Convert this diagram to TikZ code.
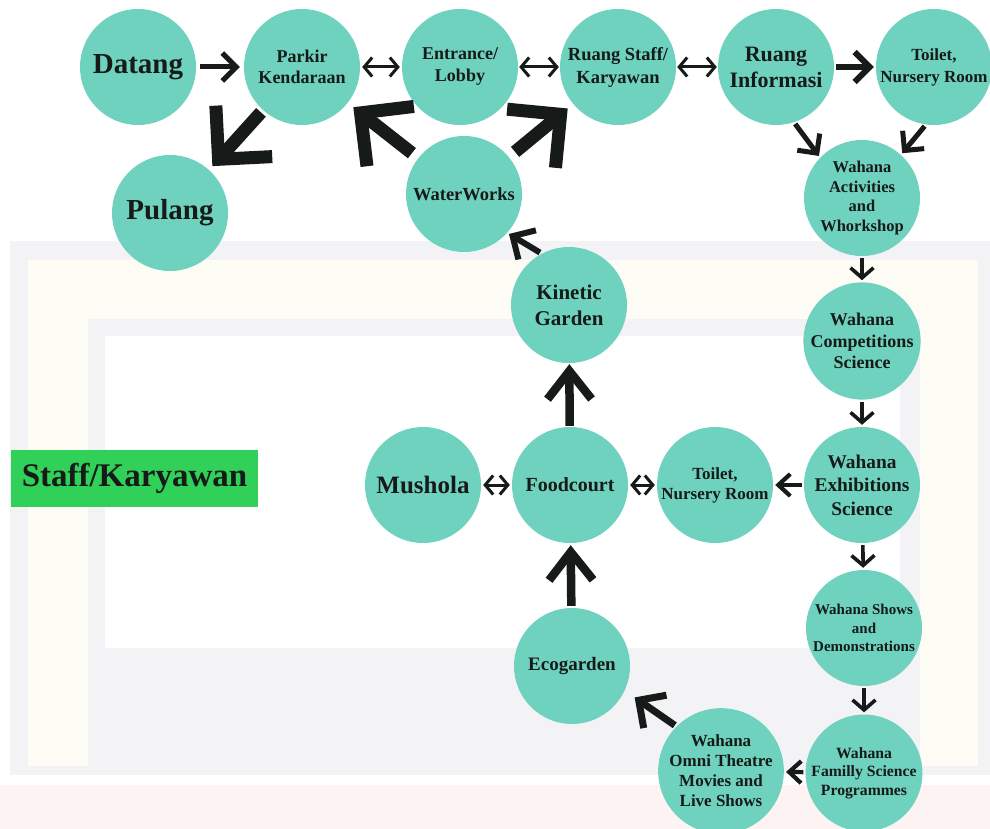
\documentclass[tikz,border=0pt]{standalone}
\usepackage{fontspec}
\setmainfont{Liberation Serif}
\usetikzlibrary{arrows.meta}

\definecolor{disc}{HTML}{6FD2BF}
\definecolor{ink}{HTML}{161A18}
\definecolor{tag}{HTML}{31D159}
\definecolor{wmgray}{HTML}{F3F3F6}
\definecolor{wmbeige}{HTML}{FEFDF5}
\definecolor{wmpink}{HTML}{FDF3F3}

\newcommand\setfs[2]{\fontsize{#1}{#2}\selectfont\bfseries}

\tikzset{
  place/.style={circle, fill=disc, minimum size=116pt, inner sep=0pt,
                align=center, text=ink},
  gap/.style={shorten <=#1, shorten >=#1},
  both/.style={line width=3pt, draw=ink,
               {Straight Barb[length=8pt,width=19pt]}-{Straight Barb[length=8pt,width=19pt]}},
  down/.style={line width=3.6pt, draw=ink, -{Straight Barb[length=10pt,width=23pt]}},
  side/.style={line width=4.2pt, draw=ink, -{Straight Barb[length=12pt,width=22pt]}},
  mid/.style={line width=5pt, draw=ink, -{Straight Barb[length=14pt,width=28pt]}},
  firm/.style={line width=6pt, draw=ink, -{Straight Barb[length=15pt,width=30pt]}},
  kin/.style={line width=6pt, draw=ink, -{Straight Barb[length=17pt,width=34pt]}},
  omn/.style={line width=7pt, draw=ink, -{Straight Barb[length=20pt,width=40pt]}},
  up/.style={line width=8.5pt, draw=ink, -{Straight Barb[length=28pt,width=44pt]}},
  heavy/.style={line width=13pt, draw=ink, -{Straight Barb[length=38pt,width=76pt]}}
}

\begin{document}
\begin{tikzpicture}[x=1pt,y=-1pt]
\useasboundingbox (0,0) rectangle (990,829);
\fill[white] (0,0) rectangle (990,829);

% faint background frame
\fill[wmgray] (10,241) rectangle (990,775);
\fill[wmbeige] (28,260) rectangle (978,766);
\fill[wmgray] (88,319) rectangle (920,766);
\fill[white] (105,336) rectangle (900,648);
\fill[wmpink] (0,785) rectangle (990,829);

% top row
\node[place, font={\setfs{29}{34}}] (datang) at (138,67) {Datang};
\node[place, font={\setfs{18}{21.5}}] (parkir) at (302,67) {Parkir\\Kendaraan};
\node[place, font={\setfs{18}{22}}] (entrance) at (460,67) {Entrance/\\Lobby};
\node[place, font={\setfs{18.5}{23}}] (staff) at (618,67) {Ruang Staff/\\Karyawan};
\node[place, font={\setfs{22}{26}}] (info) at (776,67) {Ruang\\Informasi};
\node[place, font={\setfs{17}{22}}] (toiletA) at (934,67) {Toilet,\\Nursery Room};

% second row
\node[place, font={\setfs{29}{34}}] (pulang) at (170,213) {Pulang};
\node[place, font={\setfs{18.5}{22}}] (waterworks) at (464,194) {WaterWorks};
\node[place, font={\setfs{16.5}{19.5}}] (act) at (862,198) {Wahana\\Activities\\and\\Whorkshop};

% middle column and right column
\node[place, font={\setfs{21}{26}}] (kinetic) at (569,305) {Kinetic\\Garden};
\node[place, font={\setfs{18}{21.7}}] (comp) at (862,341) {Wahana\\Competitions\\Science};
\node[place, font={\setfs{25}{30}}] (mushola) at (423,485) {Mushola};
\node[place, font={\setfs{20}{24}}] (food) at (570,485) {Foodcourt};
\node[place, font={\setfs{17}{20}}] (toiletB) at (715,485) {Toilet,\\Nursery Room};
\node[place, font={\setfs{19.4}{23.5}}] (exh) at (862,485) {Wahana\\Exhibitions\\Science};
\node[place, font={\setfs{15}{18.5}}] (shows) at (864,628) {Wahana Shows\\and\\Demonstrations};
\node[place, font={\setfs{19}{23}}] (eco) at (572,666) {Ecogarden};
\node[place, font={\setfs{17}{20}}] (omni) at (721,771) {Wahana\\Omni Theatre\\Movies and\\Live Shows};
\node[place, font={\setfs{15.7}{18.5}}] (family) at (864,773) {Wahana\\Familly Science\\Programmes};

% label box
\node[fill=tag, minimum width=247pt, minimum height=57pt, inner sep=0pt,
      text=ink, font={\setfs{33}{38}}] (stafftag) at (134.5,478.5) {Staff/Karyawan};

% connectors
\draw[mid, gap=4] (datang) -- (parkir);
\draw[both, gap=2] (parkir) -- (entrance);
\draw[both, gap=1] (entrance) -- (staff);
\draw[both, gap=1] (staff) -- (info);
\draw[firm, gap=2] (info) -- (toiletA);
\draw[mid, gap=2] (info.-72) -- (act.136);
\draw[mid, gap=2] (toiletA.-98) -- (act.48);
\draw[down, gap=2] (act) -- (comp);
\draw[down, gap=2] (comp) -- (exh);
\draw[down, gap=2] (exh) -- (shows);
\draw[down, gap=2] (shows) -- (family);
\draw[side, gap=2] (exh) -- (toiletB);
\draw[side, gap=2] (family) -- (omni);
\draw[both, gap=2] (mushola) -- (food);
\draw[both, gap=2] (food) -- (toiletB);
\draw[up, gap=1] (food) -- (kinetic);
\draw[up, gap=2] (eco) -- (food);
\draw[kin, gap=2] (kinetic.118) -- (waterworks.-42);
\draw[omn, shorten <=2, shorten >=12] (omni.135) -- (eco.-25);
\draw[heavy, shorten <=8, shorten >=7] (waterworks) -- (parkir);
\draw[heavy, shorten <=8, shorten >=7] (waterworks) -- (staff);
\draw[heavy, shorten <=3, shorten >=5] (parkir) -- (pulang);
\end{tikzpicture}
\end{document}
